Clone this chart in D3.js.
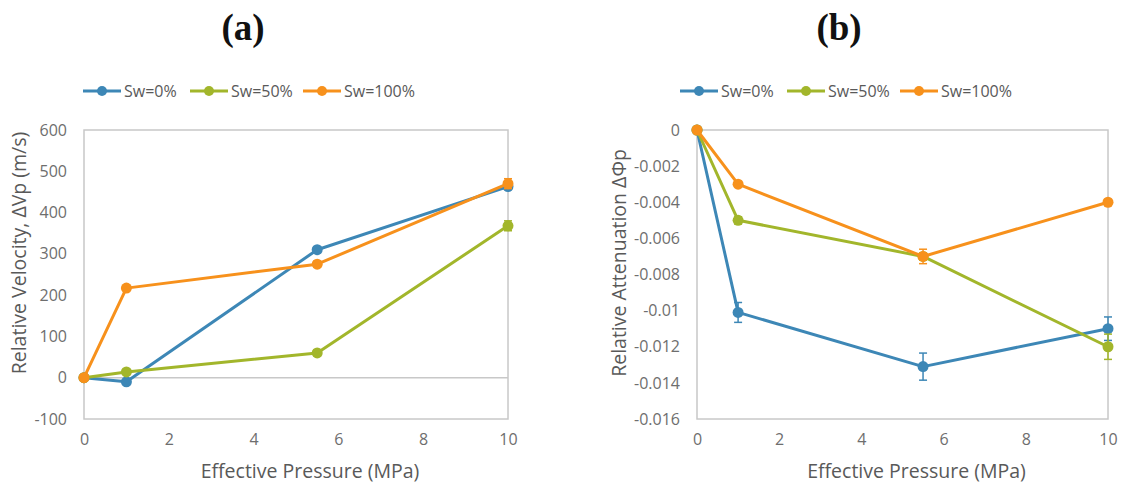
<!DOCTYPE html>
<html>
<head>
<meta charset="utf-8">
<script src="https://cdn.jsdelivr.net/npm/d3@7"></script>
<style>
  body { margin: 0; background: #fff; }
  svg { display: block; font-family: "Open Sans", sans-serif; }
</style>
</head>
<body>
<div id="chart"></div>
<script>
// data
var pressure = [0, 1, 5.5, 10];
var seriesNames = ['Sw=0%', 'Sw=50%', 'Sw=100%'];
var seriesColors = ['#3d87b6', '#a2b62b', '#f7911c'];

// (a) relative velocity, m/s
var velSw0 = [0, -10, 310, 463];
var velSw50 = [0, 14, 60, 368];
var velSw100 = [0, 217, 275, 470];
var velErrSw0 = [0, 4, 7, 6];
var velErrSw50 = [0, 4, 7, 12];
var velErrSw100 = [0, 4, 7, 12];
var velTicks = [-100, 0, 100, 200, 300, 400, 500, 600];

// (b) relative attenuation
var attSw0 = [0, -0.0101, -0.0131, -0.011];
var attSw50 = [0, -0.005, -0.007, -0.012];
var attSw100 = [0, -0.003, -0.007, -0.004];
var attErrSw0 = [0, 0.00055, 0.00075, 0.00065];
var attErrSw50 = [0, 0.0002, 0.0002, 0.0007];
var attErrSw100 = [0, 0.0001, 0.0004, 0.0001];
var attTicks = [0, -0.002, -0.004, -0.006, -0.008, -0.01, -0.012, -0.014, -0.016];

var xTicks = [0, 2, 4, 6, 8, 10];

var width = 1121;
var height = 485;
var frameColor = '#c8c8c8';
var textColor = '#595959';

var svg = d3.select('#chart')
    .append('svg')
    .attr('width', width)
    .attr('height', height);

drawPanel({
    title: '(a)', titleX: 243,
    left: 84, right: 508, top: 130, bottom: 419,
    yDomain: [-100, 600], yTicks: velTicks,
    yLabel: 'Relative Velocity, \u0394Vp (m/s)', yLabelX: 19, yLabelY: 253,
    legendX: 83,
    zeroLine: true,
    series: [velSw0, velSw50, velSw100],
    errors: [velErrSw0, velErrSw50, velErrSw100],
    fmt: function (d) { return String(d); }
});

drawPanel({
    title: '(b)', titleX: 839,
    left: 697, right: 1108, top: 130, bottom: 419,
    yDomain: [-0.016, 0], yTicks: attTicks,
    yLabel: 'Relative Attenuation \u0394\u03A6p', yLabelX: 619, yLabelY: 263,
    legendX: 680,
    zeroLine: false,
    series: [attSw0, attSw50, attSw100],
    errors: [attErrSw0, attErrSw50, attErrSw100],
    fmt: function (d) { return d === 0 ? '0' : String(+d.toFixed(3)); }
});

function drawPanel(cfg) {
    var xScale = d3.scaleLinear().domain([0, 10]).range([cfg.left, cfg.right]);
    var yScale = d3.scaleLinear().domain(cfg.yDomain).range([cfg.bottom, cfg.top]);

    // title
    svg.append('text')
        .attr('x', cfg.titleX)
        .attr('y', 40)
        .attr('text-anchor', 'middle')
        .style('font-family', '"Liberation Serif", serif')
        .style('font-weight', 'bold')
        .style('font-size', '37px')
        .attr('fill', '#111')
        .text(cfg.title);

    // frame
    svg.append('rect')
        .attr('x', cfg.left)
        .attr('y', cfg.top)
        .attr('width', cfg.right - cfg.left)
        .attr('height', cfg.bottom - cfg.top)
        .attr('fill', 'none')
        .attr('stroke', frameColor)
        .attr('stroke-width', 1.5);

    if (cfg.zeroLine) {
        svg.append('line')
            .attr('x1', cfg.left).attr('x2', cfg.right)
            .attr('y1', yScale(0)).attr('y2', yScale(0))
            .attr('stroke', frameColor)
            .attr('stroke-width', 1.5);
    }

    // axes (labels only, the frame carries the lines)
    var yAxis = svg.append('g')
        .attr('transform', 'translate(' + cfg.left + ',0)')
        .call(d3.axisLeft(yScale).tickValues(cfg.yTicks).tickFormat(cfg.fmt).tickSize(0).tickPadding(17));
    var xAxis = svg.append('g')
        .attr('transform', 'translate(0,' + cfg.bottom + ')')
        .call(d3.axisBottom(xScale).tickValues(xTicks).tickSize(0).tickPadding(15));
    [xAxis, yAxis].forEach(function (g) {
        g.select('.domain').remove();
        g.selectAll('text')
            .attr('fill', '#6e6e6e')
            .style('font-family', '"Open Sans", sans-serif')
            .style('font-size', '16px');
    });

    // axis titles
    svg.append('text')
        .attr('x', (cfg.left + cfg.right) / 2 + 14)
        .attr('y', 478)
        .attr('text-anchor', 'middle')
        .attr('fill', textColor)
        .style('font-size', '19.5px')
        .text('Effective Pressure (MPa)');

    svg.append('text')
        .attr('transform', 'translate(' + cfg.yLabelX + ',' + cfg.yLabelY + ') rotate(-90)')
        .attr('text-anchor', 'middle')
        .attr('dy', '0.35em')
        .attr('fill', textColor)
        .style('font-size', '19.5px')
        .text(cfg.yLabel);

    // legend
    var legend = svg.append('g').attr('transform', 'translate(' + cfg.legendX + ',91)');
    var offsets = [0, 107, 220];
    seriesNames.forEach(function (name, i) {
        var item = legend.append('g').attr('transform', 'translate(' + offsets[i] + ',0)');
        item.append('line')
            .attr('x1', 0).attr('x2', 38)
            .attr('y1', 0).attr('y2', 0)
            .attr('stroke', seriesColors[i])
            .attr('stroke-width', 3);
        item.append('circle')
            .attr('cx', 19).attr('cy', 0).attr('r', 5)
            .attr('fill', seriesColors[i]);
        item.append('text')
            .attr('x', 41).attr('y', 0)
            .attr('dy', '0.35em')
            .attr('fill', textColor)
            .style('font-size', '16px')
            .text(name);
    });

    var line = d3.line()
        .x(function (d) { return xScale(d[0]); })
        .y(function (d) { return yScale(d[1]); });

    cfg.series.forEach(function (values, i) {
        var pts = pressure.map(function (p, j) { return [p, values[j], cfg.errors[i][j]]; });
        var g = svg.append('g');

        g.append('path')
            .datum(pts)
            .attr('d', line)
            .attr('fill', 'none')
            .attr('stroke', seriesColors[i])
            .attr('stroke-width', 3)
            .attr('stroke-linejoin', 'round');

        // error bars
        var eb = g.selectAll('.err')
            .data(pts.filter(function (d) { return d[2] > 0; }))
            .enter()
            .append('g');
        eb.append('line')
            .attr('x1', function (d) { return xScale(d[0]); })
            .attr('x2', function (d) { return xScale(d[0]); })
            .attr('y1', function (d) { return yScale(d[1] - d[2]); })
            .attr('y2', function (d) { return yScale(d[1] + d[2]); })
            .attr('stroke', seriesColors[i])
            .attr('stroke-width', 1.5);
        [-1, 1].forEach(function (s) {
            eb.append('line')
                .attr('x1', function (d) { return xScale(d[0]) - 4; })
                .attr('x2', function (d) { return xScale(d[0]) + 4; })
                .attr('y1', function (d) { return yScale(d[1] + s * d[2]); })
                .attr('y2', function (d) { return yScale(d[1] + s * d[2]); })
                .attr('stroke', seriesColors[i])
                .attr('stroke-width', 1.5);
        });

        g.selectAll('circle')
            .data(pts)
            .enter()
            .append('circle')
            .attr('cx', function (d) { return xScale(d[0]); })
            .attr('cy', function (d) { return yScale(d[1]); })
            .attr('r', 5.5)
            .attr('fill', seriesColors[i]);
    });
}
</script>
</body>
</html>
